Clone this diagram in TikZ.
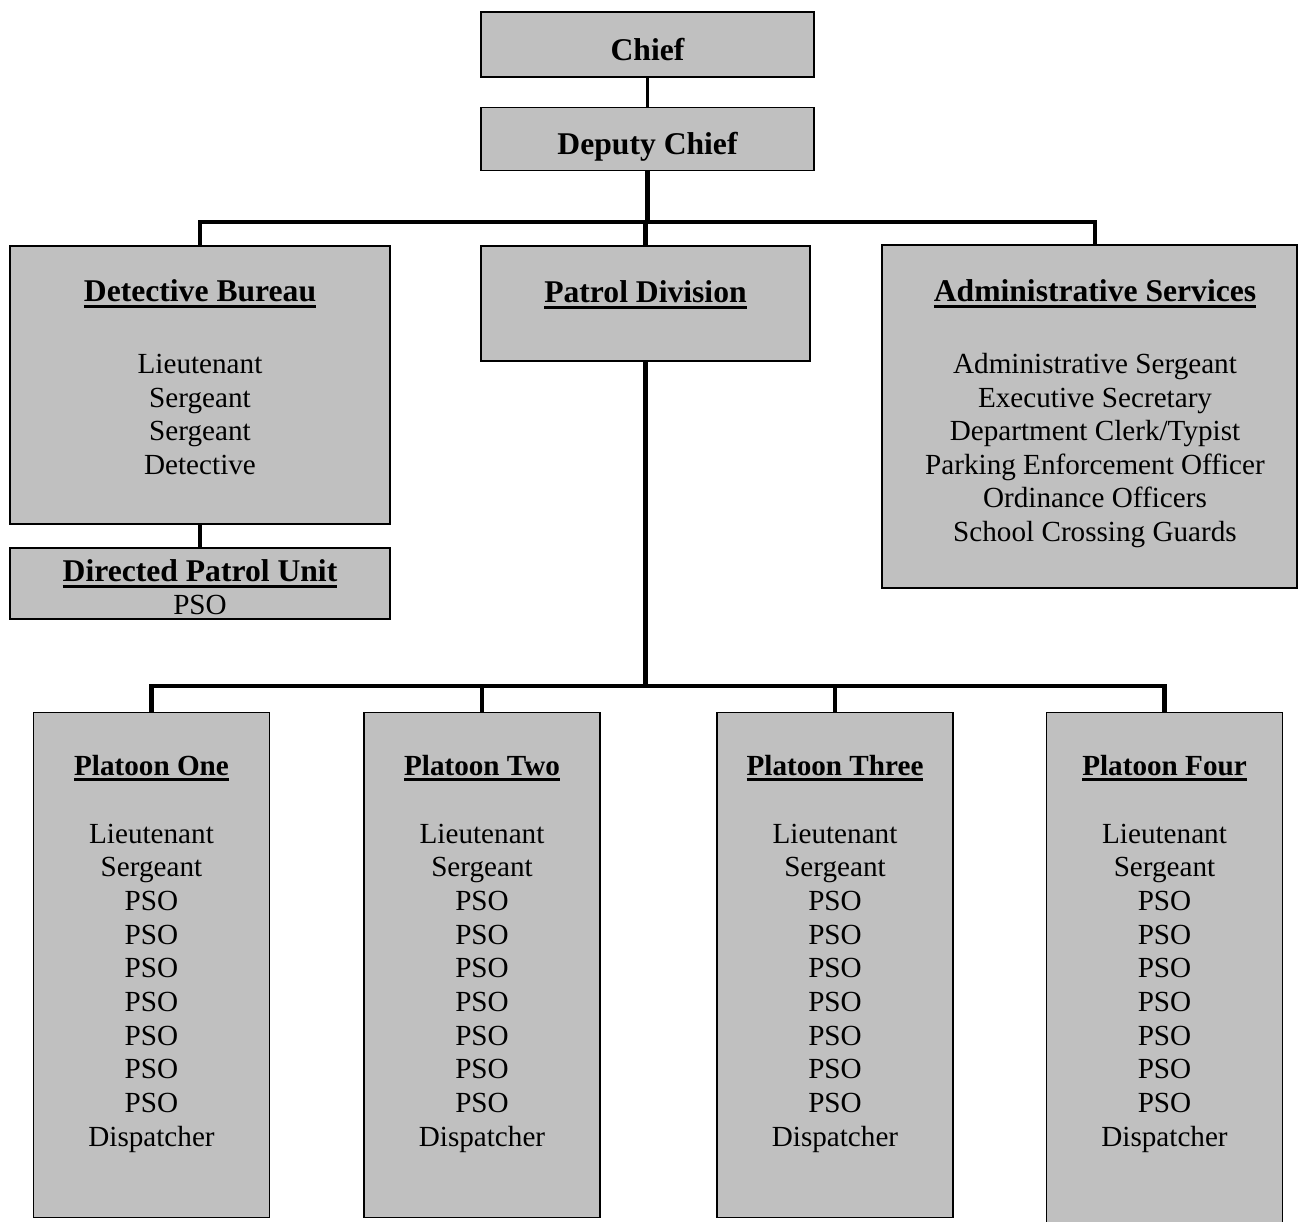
\documentclass[tikz,border=0pt]{standalone}
\usepackage{fontspec}
\setmainfont{Liberation Serif}
\definecolor{boxgray}{RGB}{192,192,192}
\newcommand{\headline}[1]{\setbox0\hbox{#1}\rlap{\rule[-3.4pt]{\wd0}{1.6pt}}\box0}

\begin{document}
\begin{tikzpicture}[
    x=0.02cm, y=-0.02cm,
    box/.style={draw, fill=boxgray, line width=0.7pt, inner sep=0pt},
    role/.style={font=\fontsize{16.6}{19}\selectfont, anchor=base, inner sep=0pt},
    head/.style={font=\fontsize{18}{21}\selectfont\bfseries, anchor=base, inner sep=0pt},
    subhead/.style={font=\fontsize{16.6}{19}\selectfont\bfseries, anchor=base, inner sep=0pt},
    link/.style={line width=2.8pt},
    thinlink/.style={line width=1.7pt}
    ]

    \useasboundingbox (0,0) rectangle (1298,1222);

    % top of the chart
    \node[box, minimum width=333*0.02cm, minimum height=65*0.02cm] (chief) at (647.5,44.5) {};
    \node[head] (chiefname) at (647.5,60.5) {Chief};
    \node[box, minimum width=333*0.02cm, minimum height=63*0.02cm] (deputy) at (647.5,139) {};
    \node[head] (deputyname) at (647.5,154.5) {Deputy Chief};

    % detective bureau
    \node[box, minimum width=380*0.02cm, minimum height=278*0.02cm] (det) at (200,385) {};
    \node[head] (dettitle) at (200,302) {\headline{Detective Bureau}};
    \foreach \r [count=\k] in {Lieutenant,Sergeant,Sergeant,Detective}
      \node[role] (det-\k) at (200,{374+33.5*(\k-1)}) {\r};

    \node[box, minimum width=380*0.02cm, minimum height=71*0.02cm] (dpu) at (200,583.5) {};
    \node[head] (dputitle) at (200,582) {\headline{Directed Patrol Unit}};
    \node[role] (dpu-1) at (200,615) {PSO};

    % patrol division
    \node[box, minimum width=329*0.02cm, minimum height=115*0.02cm] (pat) at (645.5,303.5) {};
    \node[head] (pattitle) at (645.5,303) {\headline{Patrol Division}};

    % administrative services
    \node[box, minimum width=415*0.02cm, minimum height=343*0.02cm] (adm) at (1089.5,416.5) {};
    \node[head] (admtitle) at (1095,302) {\headline{Administrative Services}};
    \foreach \r [count=\k] in {Administrative Sergeant,Executive Secretary,Department Clerk/Typist,
        Parking Enforcement Officer,Ordinance Officers,School Crossing Guards}
      \node[role] (adm-\k) at (1095,{374+33.5*(\k-1)}) {\r};

    % platoons
    \foreach \p/\x/\t/\h in {1/151.5/One/505, 2/482/Two/505, 3/835/Three/505, 4/1164.5/Four/530} {
      \node[box, anchor=north, minimum width=236*0.02cm, minimum height=\h*0.02cm] (p\p) at (\x,712) {};
      \node[subhead] (p\p title) at (\x,775) {\headline{Platoon \t}};
      \foreach \r [count=\k] in {Lieutenant,Sergeant,PSO,PSO,PSO,PSO,PSO,PSO,PSO,Dispatcher}
        \node[role] (p\p-\k) at (\x,{843+33.67*(\k-1)}) {\r};
    }

    % connectors
    \coordinate (bus) at (648,222);
    \coordinate (pbus) at (646,686);
    \draw[thinlink] (chief) -- (deputy);
    \draw[link] (deputy) -- (deputy |- bus);
    \draw[link] (det.north) |- (bus) -| (admtitle |- adm.north);
    \draw[link] (pat.north) -- (pat.north |- bus);
    \draw[link] (det) -- (dpu);
    \draw[link] (pat) -- (pat |- pbus);
    \draw[link] (p1.north) |- (pbus) -| (p4.north);
    \draw[link] (p2.north) -- (p2.north |- pbus);
    \draw[link] (p3.north) -- (p3.north |- pbus);

\end{tikzpicture}
\end{document}
